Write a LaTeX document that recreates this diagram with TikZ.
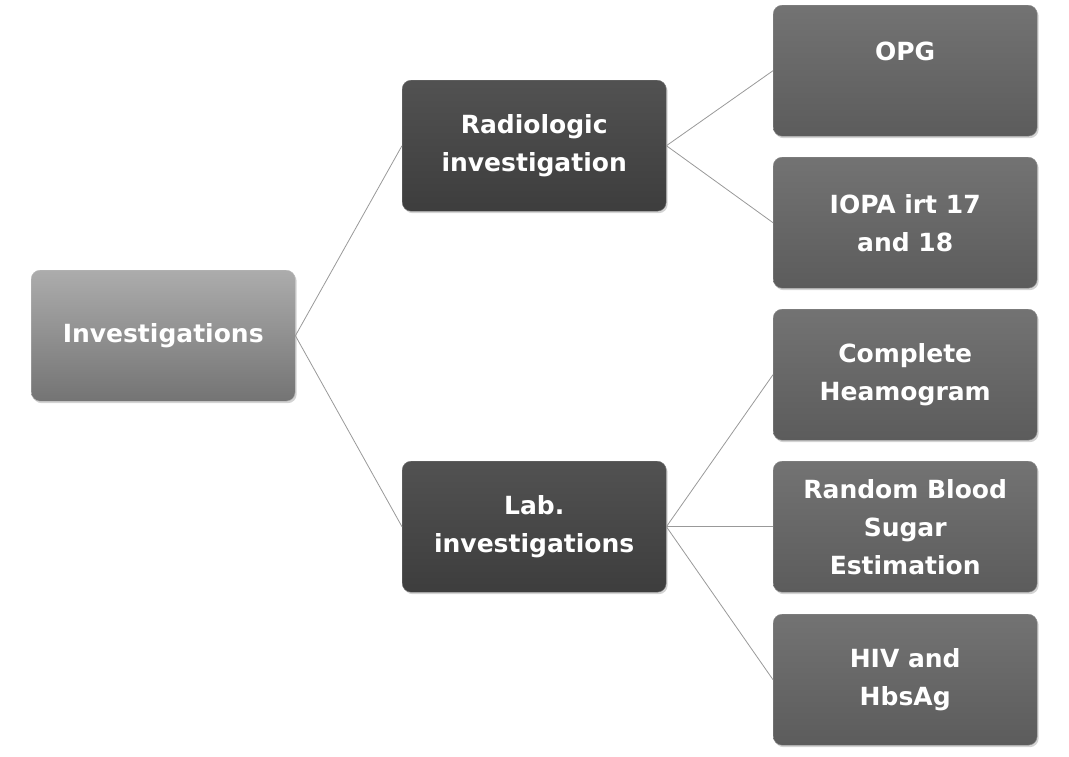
\documentclass[tikz,border=0pt]{standalone}
\usepackage{fontspec}
\setmainfont{DejaVu Sans}
\usetikzlibrary{shadows}
\begin{document}
\begin{tikzpicture}[x=1pt,y=-1pt,
  box/.style={rounded corners=9pt, minimum width=264pt, minimum height=131pt, inner sep=2pt,
    align=center, text=white, font=\bfseries\fontsize{25}{38}\selectfont, anchor=north west,
    drop shadow={shadow xshift=1.5pt,shadow yshift=-2pt,opacity=0.35}},
  lightbox/.style={box, top color=gray!65, bottom color=gray!85!black!95, draw=gray!55},
  darkbox/.style={box, top color=black!68, bottom color=black!76, draw=black!55},
  midbox/.style={box, top color=black!55, bottom color=black!64, draw=black!45},
  conn/.style={draw=gray!80, line width=0.8pt}]
\useasboundingbox (0,0) rectangle (1069,756);
\node[lightbox] (inv) at (31,270) {Investigations};
\node[darkbox] (rad) at (402,80) {Radiologic\\investigation};
\node[darkbox] (lab) at (402,461) {Lab.\\investigations};
\node[midbox] (opg) at (773,5) {OPG\\[0pt]\phantom{x}};
\node[midbox] (iopa) at (773,157) {IOPA irt 17\\and 18};
\node[midbox] (cbc) at (773,309) {Complete\\Heamogram};
\node[midbox] (rbs) at (773,461) {Random Blood\\Sugar\\Estimation};
\node[midbox] (hiv) at (773,614) {HIV and\\HbsAg};
\draw[conn] (inv.east) -- (rad.west);
\draw[conn] (inv.east) -- (lab.west);
\draw[conn] (rad.east) -- (opg.west);
\draw[conn] (rad.east) -- (iopa.west);
\draw[conn] (lab.east) -- (cbc.west);
\draw[conn] (lab.east) -- (rbs.west);
\draw[conn] (lab.east) -- (hiv.west);
\end{tikzpicture}
\end{document}
